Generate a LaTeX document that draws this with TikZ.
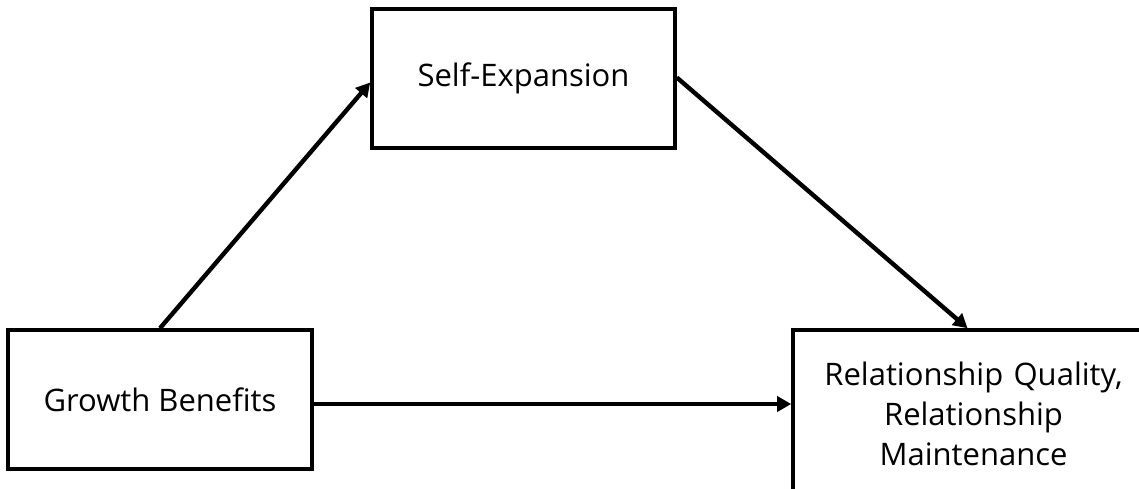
\documentclass[tikz,border=0pt]{standalone}
\usepackage{fontspec}
\setmainfont{Open Sans}
\usetikzlibrary{arrows.meta}
\begin{document}
\begin{tikzpicture}[x=1pt,y=-1pt,
  box/.style={draw, line width=3.6pt, inner sep=0pt, align=center, font=\fontsize{31}{40}\selectfont},
  conn/.style={line width=4.4pt, -{Triangle[length=14pt,width=15pt]}}]
\useasboundingbox (0,0) rectangle (1139,488);
\clip (0,0) rectangle (1139,488);
\node[box, minimum width=303pt, minimum height=139pt] (se) at (523.5,78.5) {Self-Expansion};
\node[box, minimum width=304pt, minimum height=139pt] (gb) at (160,399.5) {Growth Benefits};
\node[box, minimum width=361pt, minimum height=168pt, text width=350pt] (rq) at (973.5,414)
  {Relationship Quality,\\Relationship\\Maintenance};
\draw[conn] (gb.north) -- ([yshift=-4pt]se.west);
\draw[conn] ([yshift=1pt]se.east) -- ([xshift=-6pt]rq.north);
\draw[conn] ([yshift=-4.5pt]gb.east) -- ([yshift=-4.5pt]gb.east -| rq.west);
\end{tikzpicture}
\end{document}
